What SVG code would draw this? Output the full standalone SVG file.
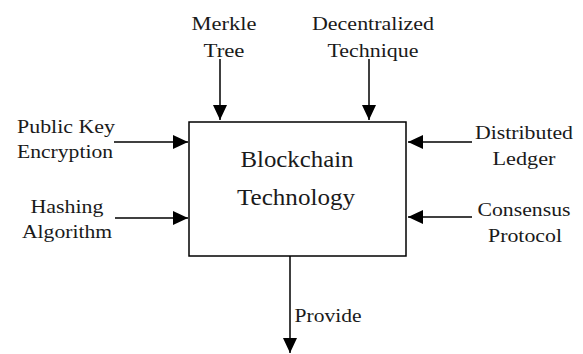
<svg xmlns="http://www.w3.org/2000/svg" width="583" height="354" viewBox="0 0 583 354">
  <style>
    .lbl { font-size: 18px; fill: #1a1a1a; text-anchor: middle; }
    .title { font-size: 24px; fill: #1a1a1a; text-anchor: middle; }
    .conn { stroke: #000; stroke-width: 1.5; fill: none; marker-end: url(#head); }
    .box { fill: #fff; stroke: #000; stroke-width: 1.5; }
  </style>
  <defs>
    <marker id="head" markerUnits="userSpaceOnUse" markerWidth="15" markerHeight="14" refX="15" refY="7" orient="auto">
      <path d="M0,0 L15,7 L0,14 z" fill="#000"/>
    </marker>
  </defs>
  <rect width="583" height="354" fill="#fff"/>

  <g id="connectors">
    <line class="conn" x1="220" y1="59" x2="220" y2="120"/>
    <line class="conn" x1="369" y1="59" x2="369" y2="120"/>
    <line class="conn" x1="114" y1="142" x2="188" y2="142"/>
    <line class="conn" x1="115" y1="218" x2="188" y2="218"/>
    <line class="conn" x1="472" y1="142" x2="408" y2="142"/>
    <line class="conn" x1="472" y1="217" x2="408" y2="217"/>
    <line class="conn" x1="290" y1="256" x2="290" y2="353"/>
  </g>

  <g font-family="Liberation Serif, DejaVu Serif, serif">
  <g id="blockchain-technology">
    <rect class="box" x="189" y="122" width="217" height="134"/>
    <text class="title" x="297" y="167" textLength="113" lengthAdjust="spacingAndGlyphs">Blockchain</text>
    <text class="title" x="296" y="205" textLength="118" lengthAdjust="spacingAndGlyphs">Technology</text>
  </g>

  <g id="merkle-tree">
    <text class="lbl" x="224" y="30" textLength="65" lengthAdjust="spacingAndGlyphs">Merkle</text>
    <text class="lbl" x="224" y="57" textLength="41" lengthAdjust="spacingAndGlyphs">Tree</text>
  </g>

  <g id="decentralized-technique">
    <text class="lbl" x="373" y="30" textLength="122" lengthAdjust="spacingAndGlyphs">Decentralized</text>
    <text class="lbl" x="373" y="57" textLength="91" lengthAdjust="spacingAndGlyphs">Technique</text>
  </g>

  <g id="public-key-encryption">
    <text class="lbl" x="66" y="133" textLength="98" lengthAdjust="spacingAndGlyphs">Public Key</text>
    <text class="lbl" x="65" y="158" textLength="96" lengthAdjust="spacingAndGlyphs">Encryption</text>
  </g>

  <g id="hashing-algorithm">
    <text class="lbl" x="67" y="213" textLength="73" lengthAdjust="spacingAndGlyphs">Hashing</text>
    <text class="lbl" x="67" y="238" textLength="90" lengthAdjust="spacingAndGlyphs">Algorithm</text>
  </g>

  <g id="distributed-ledger">
    <text class="lbl" x="524" y="139" textLength="98" lengthAdjust="spacingAndGlyphs">Distributed</text>
    <text class="lbl" x="524" y="165" textLength="63" lengthAdjust="spacingAndGlyphs">Ledger</text>
  </g>

  <g id="consensus-protocol">
    <text class="lbl" x="524" y="216" textLength="93" lengthAdjust="spacingAndGlyphs">Consensus</text>
    <text class="lbl" x="525" y="242" textLength="74" lengthAdjust="spacingAndGlyphs">Protocol</text>
  </g>

  <g id="provide">
    <text class="lbl" x="328" y="322" textLength="67" lengthAdjust="spacingAndGlyphs">Provide</text>
  </g>
  </g>
</svg>
